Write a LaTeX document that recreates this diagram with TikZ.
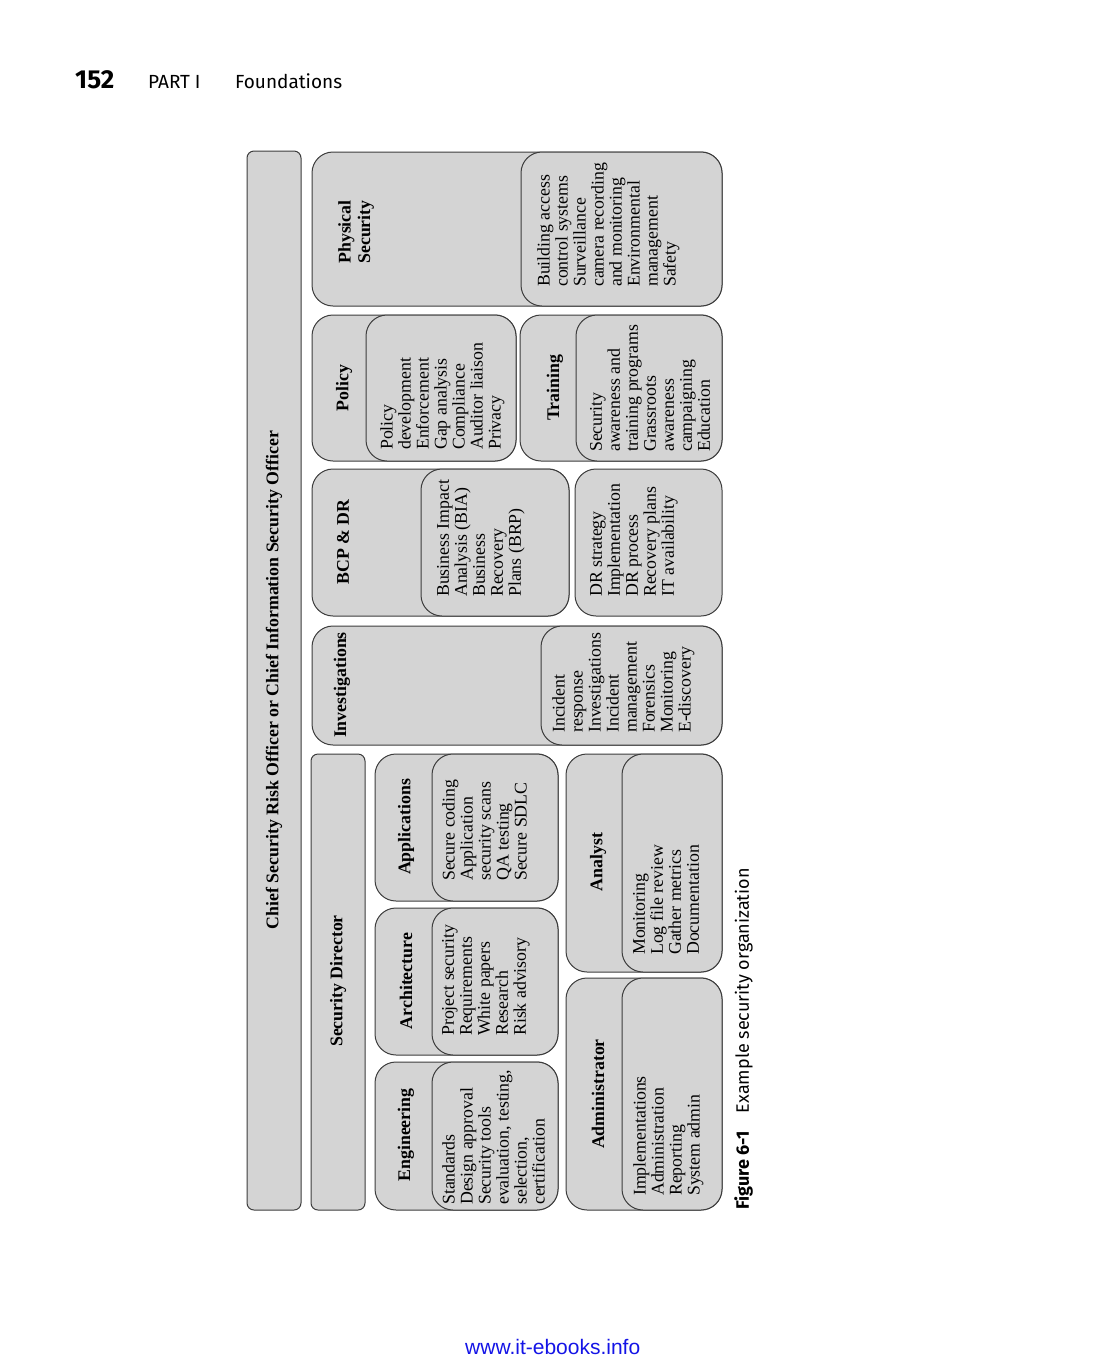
\documentclass[tikz,border=0pt]{standalone}
\usepackage{fontspec}
\setmainfont{Liberation Serif}
\newfontfamily\hdrfont{Fira Sans}
\newfontfamily\webfont{Liberation Sans}
\definecolor{boxc}{HTML}{D4D4D4}
\definecolor{linec}{HTML}{3C3C3C}
\definecolor{webc}{HTML}{1414E6}
\tikzset{
 box/.style={draw=linec, fill=boxc, line width=1pt, rounded corners=21pt},
 bar/.style={draw=linec, fill=boxc, line width=1pt, rounded corners=7pt},
 lbl/.style={rotate=90, font=\fontsize{17.8}{19.5}\selectfont\bfseries, align=center, inner sep=0pt},
 itm/.style={rotate=90, anchor=north west, align=left, font=\fontsize{17.8}{18}\selectfont, inner sep=0pt},
 hdr/.style={anchor=base west, inner sep=0pt, font=\hdrfont\fontsize{19}{19}\selectfont},
}
\begin{document}
\begin{tikzpicture}[x=1pt,y=-1pt]
\useasboundingbox (0,0) rectangle (1107,1369);
% header
\node[hdr, font=\hdrfont\fontsize{26}{26}\selectfont\bfseries] (pg) at (75,88) {152};
\node[hdr] (part) at (148,88) {PART I};
\node[hdr] (found) at (235,88) {Foundations};
% bars
\draw[bar] (247,151) rectangle (301,1210);
\node[lbl] (ciso) at (274,680) {Chief Security Risk Officer or Chief Information Security Officer};
\draw[bar] (311,754) rectangle (365,1210);
\node[lbl] (dir) at (338,981) {Security Director};
% Engineering
\draw[box] (375,1062) rectangle (558,1210);
\draw[box] (432,1062) rectangle (558,1210);
\node[lbl] (eng) at (406,1135) {Engineering};
\node[itm] (engi) at (442,1205) {Standards\\Design approval\\Security tools\\evaluation, testing,\\selection,\\certification};
% Architecture
\draw[box] (375,908) rectangle (558,1055);
\draw[box] (432,908) rectangle (558,1055);
\node[lbl] (arch) at (406,981) {Architecture};
\node[itm] (archi) at (442,1036) {Project security\\Requirements\\White papers\\Research\\Risk advisory};
% Applications
\draw[box] (375,754) rectangle (558,901);
\draw[box] (432,754) rectangle (558,901);
\node[lbl] (app) at (406,827) {Applications};
\node[itm] (appi) at (442,881) {Secure coding\\Application\\security scans\\QA testing\\Secure SDLC};
% Administrator
\draw[box] (566,978) rectangle (722,1210);
\draw[box] (622,978) rectangle (722,1210);
\node[lbl] (adm) at (598,1094) {Administrator};
\node[itm] (admi) at (633,1196) {Implementations\\Administration\\Reporting\\System admin};
% Analyst
\draw[box] (566,754) rectangle (722,972);
\draw[box] (622,754) rectangle (722,972);
\node[lbl] (ana) at (598,862) {Analyst};
\node[itm] (anai) at (633,955) {Monitoring\\Log file review\\Gather metrics\\Documentation};
% Investigations
\draw[box] (312,626) rectangle (722,745);
\draw[box] (541,626) rectangle (722,745);
\node[lbl] (inv) at (342,685) {Investigations};
\node[itm] (invi) at (552,733) {Incident\\response\\Investigations\\Incident\\management\\Forensics\\Monitoring\\E-discovery};
% BCP & DR
\draw[box] (312,469) rectangle (569,616);
\draw[box] (421,469) rectangle (569,616);
\draw[box] (575,469) rectangle (722,616);
\node[lbl] (bcp) at (343,542) {BCP \& DR};
\node[itm] (bcpi) at (437,597) {Business Impact\\Analysis (BIA)\\Business\\Recovery\\Plans (BRP)};
\node[itm] (dri) at (590,597) {DR strategy\\Implementation\\DR process\\Recovery plans\\IT availability};
% Policy
\draw[box] (312,315) rectangle (516,461);
\draw[box] (366,315) rectangle (516,461);
\node[lbl] (pol) at (344,388) {Policy};
\node[itm] (poli) at (380,450) {Policy\\development\\Enforcement\\Gap analysis\\Compliance\\Auditor liaison\\Privacy};
% Training
\draw[box] (520,315) rectangle (722,461);
\draw[box] (576,315) rectangle (722,461);
\node[lbl] (trn) at (555,388) {Training};
\node[itm] (trni) at (590,452) {Security\\awareness and\\training programs\\Grassroots\\awareness\\campaigning\\Education};
% Physical Security
\draw[box] (312,152) rectangle (722,306);
\draw[box] (521,152) rectangle (722,306);
\node[lbl] (phy) at (356,232) {Physical\\Security};
\node[itm] (phyi) at (537,287) {Building access\\control systems\\Surveillance\\camera recording\\and monitoring\\Environmental\\management\\Safety};
% caption
\node[rotate=90, anchor=north west, inner sep=0pt, font=\hdrfont\fontsize{18}{18}\selectfont] (cap) at (734,1210) {\textbf{Figure 6-1}\hspace{18pt}Example security organization};
% footer
\node[anchor=base west, inner sep=0pt, text=webc, font=\webfont\fontsize{21}{21}\selectfont] (web) at (465,1354) {www.it-ebooks.info};
\end{tikzpicture}
\end{document}
